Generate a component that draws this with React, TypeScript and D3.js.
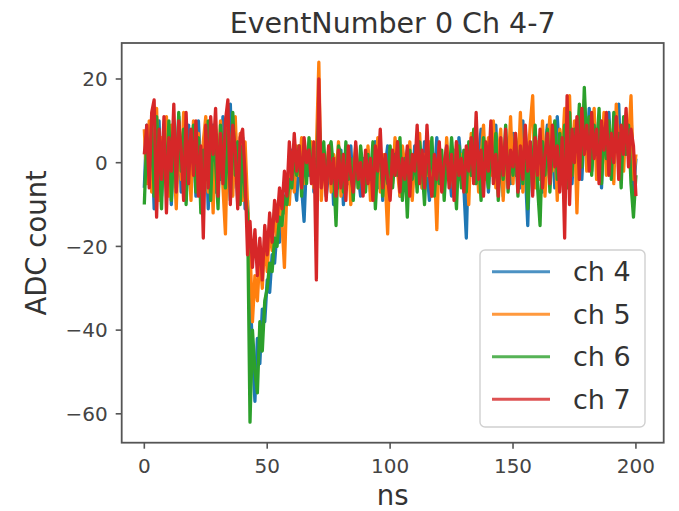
import React from "react";
import * as d3 from "d3";

const title = "EventNumber 0 Ch 4-7";
const xLabel = "ns";
const yLabel = "ADC count";
const xTicks = [0, 50, 100, 150, 200];
const yTicks = [20, 0, -20, -40, -60];
const channelNames = ["ch 4", "ch 5", "ch 6", "ch 7"];
const channelColors = ["#1f77b4", "#ff7f0e", "#2ca02c", "#d62728"];

// sample time in ns (1 ns steps)
const timeNs = d3.range(0, 201);

const ch4 = [
  -6, 9, -2, 7, -11, 5, 10, -8, 3, -4,
  8, -10, 6, -3, 11, -7, 2, -9, 9, -5,
  4, -8, 10, -2, -6, 7, -11, 3, 9, -7,
  5, -4, 11, -9, 2, 14, -6, 8, -10, 1,
  6, -11, -9, -30, -45, -57, -42, -48, -35, -38,
  -28, -31, -22, -24, -16, -19, -10, -12, -5, -8,
  3, -4, -9, 2, -6, -14, 1, -3, 4, -7,
  -2, 10, -5, 3, -8, -2, 4, -10, 1, -6,
  3, -10, 0, -5, 4, -7, 2, -3, -8, 1,
  -4, 3, -7, 0, 5, -6, 2, -9, -1, 4,
  -6, 1, -3, 5, -8, 2, -5, 3, -2, -7,
  4, -3, 1, -6, 5, -2, -9, 2, -4, 6,
  -3, 1, -7, 4, -2, -8, 3, -5, 6, -1,
  -6, -18, 4, -3, 7, -5, 1, 8, -4, 2,
  -7, 5, -2, 9, -4, 3, -8, 6, 0, -5,
  7, -3, 4, -6, 10, -2, -15, 5, -1, 8,
  -4, 6, -7, 3, 9, -2, 5, -6, 11, 1,
  -3, 8, 0, 12, -5, 6, 2, 10, -4, 9,
  1, 13, -2, 7, 4, 11, -6, 9, 3, 12,
  -1, 8, 4, 14, -3, 7, 10, 2, 12, -7,
  1,
];

const ch5 = [
  8, -5, 10, -7, 4, 13, -9, 6, -3, 11,
  -8, 9, 2, -11, 7, -4, 12, -6, 3, -9,
  10, -2, 7, -10, 5, 11, -7, 4, -12, 8,
  -3, 10, -6, -17, 9, 2, -8, 11, -5, 7,
  -9, 5, -10, -20, -38, -27, -33, -22, -30, -18,
  -26, -15, -21, -11, -18, -9, -14, -25, -6, -10,
  1, -7, 4, -3, 6, -5, 2, -1, 5, -6,
  3, 24, -9, 1, -5, 4, -7, 2, -3, 5,
  -8, 1, -4, 3, -10, -2, 4, -6, 2, -3,
  -5, 4, -9, 1, -3, 6, -7, 2, -4, -17,
  3, -5, 6, -2, -8, 4, -1, -6, 5, -9,
  1, -4, 7, -6, 2, -3, 5, -8, 0, -16,
  4, -2, -7, 6, -3, 1, -8, 5, -4, 2,
  -6, 3, -10, 7, -2, 5, -7, 1, 9, -4,
  6, -3, 10, -6, 2, 8, -9, 4, -2, 11,
  -5, 7, -3, 12, -7, 4, -1, 9, 16, -6,
  5, -4, 10, -8, 3, 11, -2, 6, -9, 8,
  2, 13, -6, 16, -3, 10, -12, 7, 4, 15,
  -2, 10, 5, 13, -4, 8, 2, 12, -3, 9,
  6, -5, 14, 1, 8, -2, 11, 5, 16, -4,
  2,
];

const ch6 = [
  -10, 6, -3, 9, -8, 11, 2, -11, 7, -5,
  10, -9, 4, -6, 12, -2, 8, -10, 5, 1,
  9, -7, 6, -12, 3, -4, 10, -9, 7, 0,
  -11, 9, 2, -6, 8, -9, 12, -3, 5, -10,
  4, -8, -12, -62, -40, -50, -55, -38, -45, -33,
  -30, -24, -26, -18, -20, -13, -15, -8, -10, -4,
  -6, 2, -3, 4, -8, 3, -5, 6, -2, 1,
  -4, 12, -3, 5, -6, 3, 5, -2, -15, 4,
  2, -7, 5, -4, 1, -9, 3, -6, 4, -2,
  -7, 2, -4, 5, -11, 0, 3, -8, 1, -5,
  4, -6, 2, -3, 6, -9, 1, -13, 3, -4,
  2, -7, 5, -1, -10, 4, -3, 6, -8, 0,
  -5, 3, -9, 2, -4, 6, -2, -11, 4, -6,
  3, -7, 5, -3, 8, -5, 2, -9, 6, -1,
  -6, 4, -2, 7, -9, 3, -4, 9, -7, 2,
  -3, 6, -8, 3, -5, 8, -11, 4, -2, 9,
  -6, -15, 5, -3, 8, -7, 4, 10, -4, 7,
  -2, 9, -6, 12, -3, 8, 3, 14, -1, 18,
  4, 11, -3, 9, 2, 13, -5, 8, 1, 10,
  -4, 12, 3, 7, -6, 11, 2, 9, -5, -13,
  -3,
];

const ch7 = [
  2, 9, -6, 12, 15, -13, 8, -4, 11, -12,
  6, -2, 14, -7, 10, 3, -9, 12, -5, 8,
  -3, 10, -8, 4, -18, 9, -6, 11, 2, 13,
  -8, 7, -5, 10, 15, -10, 9, 3, -11, 6,
  8, -3, -22, -14, -25, -16, -27, -18, -28, -15,
  -22, -12, -19, -9, -14, -6, -11, -2, -8, 5,
  -4, 7, -2, 4, -6, 6, 0, 3, -5, 5,
  -28, 20, -6, 2, -9, 4, -5, 1, -8, 3,
  -6, 2, -9, 4, -3, -7, 5, -4, 0, -8,
  3, -5, 1, -9, 4, -2, 8, -6, 2, -4,
  -9, 3, -3, 5, -7, 1, -4, 4, -8, 2,
  -2, 9, -5, 3, -6, 9, -3, -8, 2, -4,
  5, -7, 0, 4, -6, 2, -9, 5, -3, 1,
  -7, 4, -2, 6, -5, 12, -4, 3, -8, 5,
  -2, 10, -5, 2, -8, 6, -3, 8, -6, 3,
  -1, 7, -7, 4, -4, 9, -2, 5, -8, 6,
  -3, 8, -6, 2, 7, -5, 9, -1, 4, -7,
  6, -18, 16, -10, 8, 0, 11, -4, 13, 2,
  9, -2, 12, 1, 8, -5, 10, 3, 12, -3,
  7, 0, 11, -4, 9, 2, 13, -1, 8, 4,
  -8,
];

const seriesValues = [ch4, ch5, ch6, ch7];

const W = 679;
const H = 511;
const FONT = "'DejaVu Sans', sans-serif";

export default function App() {
  const left = 121.7;
  const right = 663.7;
  const top = 43;
  const bottom = 442.7;

  const x = d3.scaleLinear().domain([-9.2, 211.3]).range([left, right]);
  const y = d3.scaleLinear().domain([-66.9, 28.6]).range([bottom, top]);

  const line = d3
    .line<number>()
    .x((_, i) => x(timeNs[i]))
    .y((d) => y(d));

  const legendX = 480;
  const legendY = 250;
  const legendW = 165;
  const legendH = 177;
  const rowY = (i: number) => legendY + 21.7 + i * 42.5;

  return (
    <svg
      width={W}
      height={H}
      style={{ position: "absolute", left: 0, top: 0, background: "#fff" }}
      fontFamily={FONT}
    >
      <rect x={0} y={0} width={W} height={H} fill="#fff" />
      <defs>
        <clipPath id="plotclip">
          <rect x={left} y={top} width={right - left} height={bottom - top} />
        </clipPath>
      </defs>
      <g clipPath="url(#plotclip)">
        {seriesValues.map((vals, si) => (
          <path
            key={si}
            d={line(vals) || ""}
            fill="none"
            stroke={channelColors[si]}
            strokeWidth={3.3}
            strokeLinejoin="round"
          />
        ))}
      </g>
      {/* frame */}
      <rect
        x={left}
        y={top}
        width={right - left}
        height={bottom - top}
        fill="none"
        stroke="#555"
        strokeWidth={1.8}
      />
      {/* x ticks */}
      {xTicks.map((t) => (
        <g key={"x" + t}>
          <line x1={x(t)} x2={x(t)} y1={bottom} y2={bottom + 6} stroke="#555" strokeWidth={1.6} />
          <text x={x(t)} y={473} textAnchor="middle" fontSize={20} fill="#444">
            {t}
          </text>
        </g>
      ))}
      {/* y ticks */}
      {yTicks.map((t) => (
        <g key={"y" + t}>
          <line x1={left - 6} x2={left} y1={y(t)} y2={y(t)} stroke="#555" strokeWidth={1.6} />
          <text
            x={left - 14}
            y={y(t)}
            dy="0.36em"
            textAnchor="end"
            fontSize={20}
            fill="#444"
          >
            {t < 0 ? "\u2212" + Math.abs(t) : t}
          </text>
        </g>
      ))}
      {/* title */}
      <text x={(left + right) / 2} y={33} textAnchor="middle" fontSize={28.5} fill="#333">
        {title}
      </text>
      {/* axis labels */}
      <text x={(left + right) / 2} y={505} textAnchor="middle" fontSize={27.5} fill="#333">
        {xLabel}
      </text>
      <text
        transform={`translate(46, ${(top + bottom) / 2}) rotate(-90)`}
        textAnchor="middle"
        fontSize={27.5}
        fill="#333"
      >
        {yLabel}
      </text>
      {/* legend */}
      <rect
        x={legendX}
        y={legendY}
        width={legendW}
        height={legendH}
        rx={5}
        fill="#fff"
        fillOpacity={0.8}
        stroke="#d0d0d0"
        strokeWidth={1.4}
      />
      {channelNames.map((name, i) => (
        <g key={name}>
          <line
            x1={legendX + 12}
            x2={legendX + 70}
            y1={rowY(i)}
            y2={rowY(i)}
            stroke={channelColors[i]}
            strokeWidth={3}
            strokeOpacity={0.8}
          />
          <text x={legendX + 93} y={rowY(i)} dy="0.36em" fontSize={27} fill="#333">
            {name}
          </text>
        </g>
      ))}
    </svg>
  );
}
